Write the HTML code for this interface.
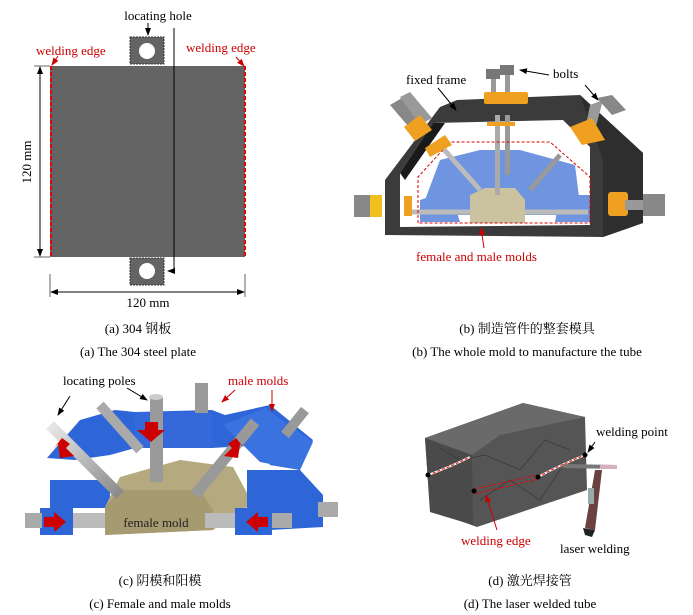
<!DOCTYPE html>
<html><head><meta charset="utf-8"><style>
html,body{margin:0;padding:0;background:#fff;}
svg{display:block;font-family:"Liberation Serif","Noto Serif CJK SC","Noto Sans CJK SC",serif;}
</style></head><body>
<svg width="693" height="615" viewBox="0 0 693 615" xmlns="http://www.w3.org/2000/svg">
<defs>
<marker id="ab" markerWidth="8" markerHeight="8" refX="7" refY="4" orient="auto" markerUnits="userSpaceOnUse"><path d="M0,1 L8,4 L0,7 Z" fill="#000"/></marker>
<marker id="ar" markerWidth="8" markerHeight="8" refX="7" refY="4" orient="auto" markerUnits="userSpaceOnUse"><path d="M0,1 L8,4 L0,7 Z" fill="#c00"/></marker>
<linearGradient id="cyl" x1="0" x2="1" y1="0" y2="1"><stop offset="0" stop-color="#e8e8e8"/><stop offset="1" stop-color="#8a8a8a"/></linearGradient>
</defs>

<!-- Panel a -->
<rect x="50" y="66" width="195" height="191" fill="#646464"/>
<line x1="51" y1="66" x2="51" y2="257" stroke="#e00" stroke-width="2" stroke-dasharray="4,2"/>
<line x1="245" y1="66" x2="245" y2="257" stroke="#e00" stroke-width="2" stroke-dasharray="4,2"/>
<rect x="130" y="37" width="34" height="27" fill="#646464" stroke="#333" stroke-dasharray="2,1"/>
<circle cx="147" cy="51" r="8" fill="#fff"/>
<rect x="130" y="258" width="34" height="27" fill="#646464" stroke="#333" stroke-dasharray="2,1"/>
<circle cx="147" cy="271" r="8" fill="#fff"/>
<polyline points="174,28 174,271 168,271" fill="none" stroke="#000" stroke-width="1" marker-end="url(#ab)"/>
<line x1="148" y1="23" x2="148" y2="35" stroke="#000" marker-end="url(#ab)"/>
<text x="158" y="20" font-size="13" text-anchor="middle">locating hole</text>
<text x="36" y="55" font-size="13" fill="#c00">welding edge</text>
<text x="186" y="52" font-size="13" fill="#c00">welding edge</text>
<line x1="58" y1="56" x2="52" y2="65" stroke="#c00" marker-end="url(#ar)"/>
<line x1="236" y1="57" x2="244" y2="66" stroke="#c00" marker-end="url(#ar)"/>
<line x1="40" y1="160" x2="40" y2="67" stroke="#000" marker-end="url(#ab)"/>
<line x1="40" y1="160" x2="40" y2="256" stroke="#000" marker-end="url(#ab)"/>
<line x1="34" y1="66" x2="50" y2="66" stroke="#000" stroke-width="0.6"/>
<line x1="34" y1="257" x2="50" y2="257" stroke="#000" stroke-width="0.6"/>
<text x="0" y="0" font-size="13" text-anchor="middle" transform="translate(31,162) rotate(-90)">120 mm</text>
<line x1="50" y1="274" x2="50" y2="297" stroke="#000" stroke-width="0.6"/>
<line x1="245" y1="274" x2="245" y2="297" stroke="#000" stroke-width="0.6"/>
<line x1="148" y1="292" x2="51" y2="292" stroke="#000" marker-end="url(#ab)"/>
<line x1="148" y1="292" x2="244" y2="292" stroke="#000" marker-end="url(#ab)"/>
<text x="148" y="307" font-size="13" text-anchor="middle">120 mm</text>
<text x="138" y="333" font-size="13" text-anchor="middle">(a) 304 钢板</text>
<text x="138" y="356" font-size="13" text-anchor="middle">(a) The 304 steel plate</text>

<!-- Panel b -->
<polygon points="385,235 385,180 440,107 457,100 580,95 643,153 643,223 603,237" fill="#3b3b3b"/>
<polygon points="580,95 643,153 643,223 603,237 603,160" fill="#2e2e2e"/>
<polygon points="400,227 400,173 433,123 563,120 590,147 590,225" fill="#fff"/>
<polygon points="400,173 433,123 445,123 405,180" fill="#1a1a1a"/>
<polygon points="440,160 480,150 520,150 575,165 580,205 560,215 440,215 425,200" fill="#6f95e0"/>
<polygon points="420,200 450,190 460,222 420,222" fill="#6f95e0"/>
<polygon points="560,195 590,195 590,222 555,222" fill="#6f95e0"/>
<polygon points="470,195 485,188 515,188 525,200 525,223 470,223" fill="#cbc29f"/>
<rect x="495" y="115" width="5" height="80" fill="#aaa"/>
<rect x="505" y="115" width="5" height="60" fill="#999"/>
<line x1="410" y1="212" x2="470" y2="212" stroke="#bbb" stroke-width="5"/>
<line x1="525" y1="212" x2="588" y2="212" stroke="#bbb" stroke-width="5"/>
<line x1="440" y1="145" x2="480" y2="190" stroke="#bbb" stroke-width="5"/>
<line x1="560" y1="155" x2="530" y2="190" stroke="#999" stroke-width="5"/>
<polygon points="418,223 418,177 450,142 550,142 590,177 590,223" fill="none" stroke="#d00" stroke-dasharray="3,2"/>
<rect x="486" y="69" width="14" height="10" fill="#777"/><rect x="491" y="79" width="5" height="20" fill="#999"/>
<rect x="500" y="65" width="14" height="10" fill="#777"/><rect x="505" y="75" width="5" height="20" fill="#999"/>
<rect x="484" y="92" width="44" height="12" fill="#f0a020" rx="2"/>
<rect x="487" y="122" width="28" height="4" fill="#f0a020"/>
<polygon points="390,105 402,98 425,125 414,133" fill="#888"/>
<polygon points="400,97 410,92 432,118 420,125" fill="#999"/>
<polygon points="404,127 420,115 432,130 415,141" fill="#f0a020"/>
<polygon points="425,148 445,135 452,145 430,157" fill="#f0a020"/>
<polygon points="590,105 603,100 595,130 585,130" fill="#999"/>
<polygon points="597,98 612,95 626,110 612,115" fill="#888"/>
<polygon points="570,127 592,118 605,140 582,145" fill="#f0a020"/>
<rect x="354" y="195" width="22" height="22" fill="#888"/><rect x="370" y="195" width="12" height="22" fill="#f0c020"/>
<rect x="404" y="196" width="8" height="20" fill="#f0a020"/>
<rect x="608" y="192" width="20" height="24" fill="#f0a020" rx="3"/>
<rect x="625" y="200" width="20" height="10" fill="#999"/>
<rect x="643" y="194" width="22" height="22" fill="#888"/>
<text x="406" y="84" font-size="13">fixed frame</text>
<line x1="438" y1="88" x2="456" y2="110" stroke="#000" marker-end="url(#ab)"/>
<text x="553" y="78" font-size="13">bolts</text>
<line x1="549" y1="75" x2="520" y2="70" stroke="#000" marker-end="url(#ab)"/>
<line x1="585" y1="85" x2="598" y2="100" stroke="#000" marker-end="url(#ab)"/>
<text x="416" y="261" font-size="13" fill="#c00">female and male molds</text>
<line x1="484" y1="248" x2="481" y2="228" stroke="#c00" marker-end="url(#ar)"/>
<text x="527" y="333" font-size="13" text-anchor="middle">(b) 制造管件的整套模具</text>
<text x="527" y="356" font-size="13" text-anchor="middle">(b) The whole mold to manufacture the tube</text>

<!-- Panel c -->
<polygon points="47,458 80,420 115,410 135,412 212,410 225,415 270,405 313,440 300,470 270,465 260,445 212,448 135,448 110,455 75,460" fill="#2e66d8"/>
<polygon points="223,425 265,408 313,442 300,470 260,462" fill="#3a72e0"/>
<polygon points="50,480 110,480 110,508 50,508" fill="#2e66d8"/>
<polygon points="247,470 300,470 323,495 323,527 270,530 247,508" fill="#2e66d8"/>
<polygon points="105,507 120,477 180,460 233,467 247,493 247,507 213,530 105,535" fill="#b5a97f"/>
<polygon points="105,507 120,490 200,490 213,510 213,530 105,535" fill="#a59a70"/>
<rect x="40" y="508" width="33" height="27" fill="#2e66d8"/>
<rect x="235" y="508" width="37" height="27" fill="#2e66d8"/>
<rect x="135" y="412" width="77" height="36" fill="#3568d8"/>
<line x1="50" y1="425" x2="120" y2="495" stroke="url(#cyl)" stroke-width="11"/>
<line x1="255" y1="422" x2="195" y2="495" stroke="#999" stroke-width="11"/>
<line x1="100" y1="405" x2="140" y2="450" stroke="#aaa" stroke-width="10"/>
<line x1="305" y1="410" x2="285" y2="435" stroke="#999" stroke-width="10"/>
<rect x="150" y="397" width="13" height="85" fill="#9a9a9a"/>
<ellipse cx="156" cy="397" rx="7" ry="3" fill="#ccc"/>
<rect x="195" y="383" width="13" height="30" fill="#9a9a9a"/>
<rect x="25" y="513" width="17" height="15" fill="#aaa"/><rect x="73" y="513" width="32" height="15" fill="#bbb"/>
<rect x="205" y="513" width="30" height="15" fill="#bbb"/><rect x="272" y="513" width="20" height="15" fill="#aaa"/>
<rect x="318" y="502" width="20" height="15" fill="#aaa"/>
<polygon points="145,422 158,422 158,430 165,430 151,442 137,430 145,430" fill="#c00"/>
<polygon points="62,438 70,444 66,448 74,456 60,458 58,444 54,448" fill="#c00"/>
<polygon points="236,438 228,444 232,448 224,456 238,458 240,444 244,448" fill="#c00"/>
<polygon points="44,517 54,517 54,512 66,522 54,532 54,527 44,527" fill="#c00"/>
<polygon points="268,517 258,517 258,512 246,522 258,532 258,527 268,527" fill="#c00"/>
<text x="63" y="385" font-size="13">locating poles</text>
<line x1="70" y1="396" x2="58" y2="415" stroke="#000" marker-end="url(#ab)"/>
<line x1="127" y1="388" x2="147" y2="400" stroke="#000" marker-end="url(#ab)"/>
<text x="228" y="385" font-size="13" fill="#c00">male molds</text>
<line x1="235" y1="390" x2="222" y2="402" stroke="#c00" marker-end="url(#ar)"/>
<line x1="272" y1="390" x2="272" y2="411" stroke="#c00" marker-end="url(#ar)"/>
<text x="156" y="527" font-size="13" text-anchor="middle" fill="#222">female mold</text>
<text x="160" y="585" font-size="13" text-anchor="middle">(c) 阴模和阳模</text>
<text x="160" y="608" font-size="13" text-anchor="middle">(c) Female and male molds</text>

<!-- Panel d -->
<polygon points="425,438 523,403 585,417 587,490 477,527 430,510" fill="#555"/>
<polygon points="425,438 523,403 585,417 500,435 472,455" fill="#6a6a6a"/>
<polygon points="425,438 472,455 473,525 430,512" fill="#4a4a4a"/>
<polyline points="440,448 460,460 485,455 520,470 545,440 570,450" fill="none" stroke="#3a3a3a" stroke-width="0.8"/>
<polyline points="480,500 510,480 540,500 560,470" fill="none" stroke="#3a3a3a" stroke-width="0.8"/>
<path d="M428,475 Q450,467 470,457" stroke="#fff" stroke-width="2" fill="none"/>
<path d="M428,475 Q450,467 470,457" stroke="#e00" stroke-width="1" stroke-dasharray="3,2" fill="none"/>
<path d="M538,477 Q560,465 585,455" stroke="#fff" stroke-width="2" fill="none"/>
<path d="M538,477 Q560,465 585,455" stroke="#e00" stroke-width="1" stroke-dasharray="3,2" fill="none"/>
<polygon points="474,489 538,475 538,479 474,494" fill="none" stroke="#e00" stroke-dasharray="3,2"/>
<circle cx="428" cy="475" r="2.5" fill="#000"/><circle cx="474" cy="491" r="2.5" fill="#000"/>
<circle cx="538" cy="477" r="2.5" fill="#000"/><circle cx="585" cy="455" r="2.5" fill="#000"/>
<line x1="563" y1="466" x2="617" y2="467" stroke="#777" stroke-width="4"/>
<line x1="600" y1="467" x2="617" y2="467" stroke="#d9b0c0" stroke-width="4"/>
<polygon points="595,470 602,470 595,530 585,528" fill="#6b4040"/>
<rect x="588" y="488" width="6" height="16" fill="#9aa"/>
<polygon points="583,528 595,530 592,537 585,535" fill="#222"/>
<text x="596" y="436" font-size="13">welding point</text>
<line x1="595" y1="442" x2="588" y2="452" stroke="#000" marker-end="url(#ab)"/>
<text x="461" y="545" font-size="13" fill="#c00">welding edge</text>
<line x1="497" y1="530" x2="486" y2="495" stroke="#c00" marker-end="url(#ar)"/>
<text x="560" y="553" font-size="13">laser welding</text>
<text x="530" y="585" font-size="13" text-anchor="middle">(d) 激光焊接管</text>
<text x="530" y="608" font-size="13" text-anchor="middle">(d) The laser welded tube</text>
</svg>
</body></html>
